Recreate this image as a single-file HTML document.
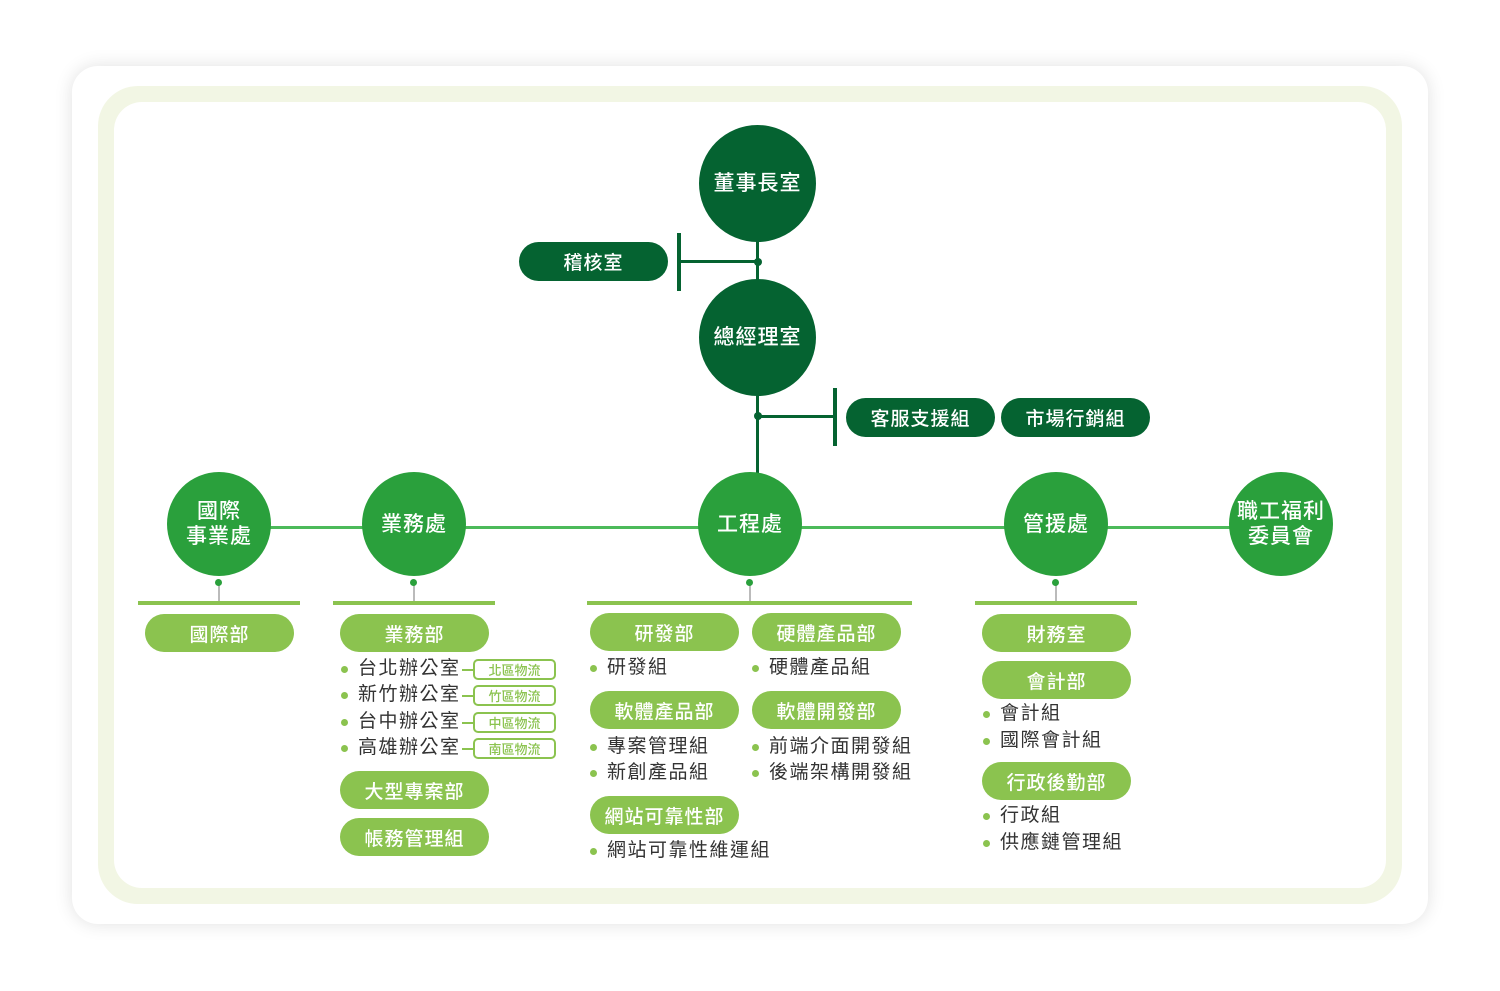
<!DOCTYPE html>
<html><head><meta charset="utf-8"><style>
*{margin:0;padding:0;box-sizing:border-box}
body{width:1500px;height:991px;background:#fff;position:relative;overflow:hidden;font-family:"Liberation Sans","Noto Sans CJK TC",sans-serif}
.a{position:absolute}
.card{left:72px;top:66px;width:1356px;height:858px;background:#fff;border-radius:26px;box-shadow:0 0 18px rgba(0,0,0,.12)}
.band{left:98px;top:86px;width:1304px;height:818px;background:#f2f6e4;border-radius:40px}
.inner{left:114px;top:102px;width:1272px;height:786px;background:#fff;border-radius:28px}
.c{border-radius:50%;color:#fff;display:flex;align-items:center;justify-content:center;text-align:center;font-size:21px;line-height:25px;font-weight:500;letter-spacing:1px}
.dk{background:#056331}
.md{background:#2aa03c}
.p{border-radius:20px;color:#fff;display:flex;align-items:center;justify-content:center;font-size:19px;font-weight:500;letter-spacing:1px;height:38px;width:149px}
.lt{background:#8bc34f}
.li{font-size:19px;color:#333;height:24px;line-height:24px;padding-left:17px;letter-spacing:1.5px}
.li:before{content:"";position:absolute;left:0;top:9px;width:7px;height:7px;border-radius:50%;background:#8bc34f}
.tag{width:83px;height:21px;border:2px solid #8bc34f;border-radius:5px;color:#8bc34f;font-size:13px;font-weight:500;display:flex;align-items:center;justify-content:center}
.tl{height:2px;width:12px;background:#8bc34f}
.bar{height:4px;background:#8bc34f}
.gl{width:2px;height:20px;background:#bbb}
.dot{width:7px;height:7px;border-radius:50%;background:#2aa03c}
</style></head><body>
<div class="a card"></div><div class="a band"></div><div class="a inner"></div>

<div class="a" style="left:756px;top:200px;width:3px;height:273px;background:#056331"></div>
<div class="a" style="left:679px;top:260px;width:78px;height:3px;background:#056331"></div>
<div class="a" style="left:677px;top:233px;width:4px;height:58px;background:#056331"></div>
<div class="a" style="left:754px;top:258px;width:8px;height:8px;border-radius:50%;background:#056331"></div>
<div class="a" style="left:757px;top:415px;width:80px;height:3px;background:#056331"></div>
<div class="a" style="left:833px;top:388px;width:4px;height:58px;background:#056331"></div>
<div class="a" style="left:754px;top:412px;width:8px;height:8px;border-radius:50%;background:#056331"></div>

<div class="a c dk" style="left:699px;top:125px;width:117px;height:117px">董事長室</div>
<div class="a c dk" style="left:699px;top:279px;width:117px;height:117px">總經理室</div>
<div class="a p dk" style="left:519px;top:242px;height:39px">稽核室</div>
<div class="a p dk" style="left:846px;top:398px;height:39px">客服支援組</div>
<div class="a p dk" style="left:1001px;top:398px;height:39px">市場行銷組</div>

<div class="a" style="left:219px;top:526px;width:1062px;height:3px;background:#4cba5a"></div>
<div class="a c md" style="left:167px;top:472px;width:104px;height:104px">國際<br>事業處</div>
<div class="a c md" style="left:362px;top:472px;width:104px;height:104px">業務處</div>
<div class="a c md" style="left:698px;top:472px;width:104px;height:104px">工程處</div>
<div class="a c md" style="left:1004px;top:472px;width:104px;height:104px">管援處</div>
<div class="a c md" style="left:1229px;top:472px;width:104px;height:104px">職工福利<br>委員會</div>

<div class="a gl" style="left:218px;top:583px"></div><div class="a dot" style="left:215px;top:579px"></div><div class="a bar" style="left:138px;top:601px;width:162px"></div>
<div class="a gl" style="left:413px;top:583px"></div><div class="a dot" style="left:410px;top:579px"></div><div class="a bar" style="left:333px;top:601px;width:162px"></div>
<div class="a gl" style="left:749px;top:583px"></div><div class="a dot" style="left:746px;top:579px"></div><div class="a bar" style="left:587px;top:601px;width:325px"></div>
<div class="a gl" style="left:1055px;top:583px"></div><div class="a dot" style="left:1052px;top:579px"></div><div class="a bar" style="left:975px;top:601px;width:162px"></div>

<div class="a p lt" style="left:145px;top:614px">國際部</div>

<div class="a p lt" style="left:340px;top:614px">業務部</div>
<div class="a li" style="left:341px;top:657px">台北辦公室</div>
<div class="a li" style="left:341px;top:683px">新竹辦公室</div>
<div class="a li" style="left:341px;top:710px">台中辦公室</div>
<div class="a li" style="left:341px;top:736px">高雄辦公室</div>
<div class="a tl" style="left:462px;top:669px"></div><div class="a tag" style="left:473px;top:659px">北區物流</div>
<div class="a tl" style="left:462px;top:695px"></div><div class="a tag" style="left:473px;top:685px">竹區物流</div>
<div class="a tl" style="left:462px;top:722px"></div><div class="a tag" style="left:473px;top:712px">中區物流</div>
<div class="a tl" style="left:462px;top:748px"></div><div class="a tag" style="left:473px;top:738px">南區物流</div>
<div class="a p lt" style="left:340px;top:771px">大型專案部</div>
<div class="a p lt" style="left:340px;top:818px">帳務管理組</div>

<div class="a p lt" style="left:590px;top:613px">研發部</div>
<div class="a p lt" style="left:752px;top:613px">硬體產品部</div>
<div class="a li" style="left:590px;top:656px">研發組</div>
<div class="a li" style="left:752px;top:656px">硬體產品組</div>
<div class="a p lt" style="left:590px;top:691px">軟體產品部</div>
<div class="a p lt" style="left:752px;top:691px">軟體開發部</div>
<div class="a li" style="left:590px;top:735px">專案管理組</div>
<div class="a li" style="left:590px;top:761px">新創產品組</div>
<div class="a li" style="left:752px;top:735px">前端介面開發組</div>
<div class="a li" style="left:752px;top:761px">後端架構開發組</div>
<div class="a p lt" style="left:590px;top:796px">網站可靠性部</div>
<div class="a li" style="left:590px;top:839px">網站可靠性維運組</div>

<div class="a p lt" style="left:982px;top:614px">財務室</div>
<div class="a p lt" style="left:982px;top:661px">會計部</div>
<div class="a li" style="left:983px;top:702px">會計組</div>
<div class="a li" style="left:983px;top:729px">國際會計組</div>
<div class="a p lt" style="left:982px;top:762px">行政後勤部</div>
<div class="a li" style="left:983px;top:804px">行政組</div>
<div class="a li" style="left:983px;top:831px">供應鏈管理組</div>
</body></html>
